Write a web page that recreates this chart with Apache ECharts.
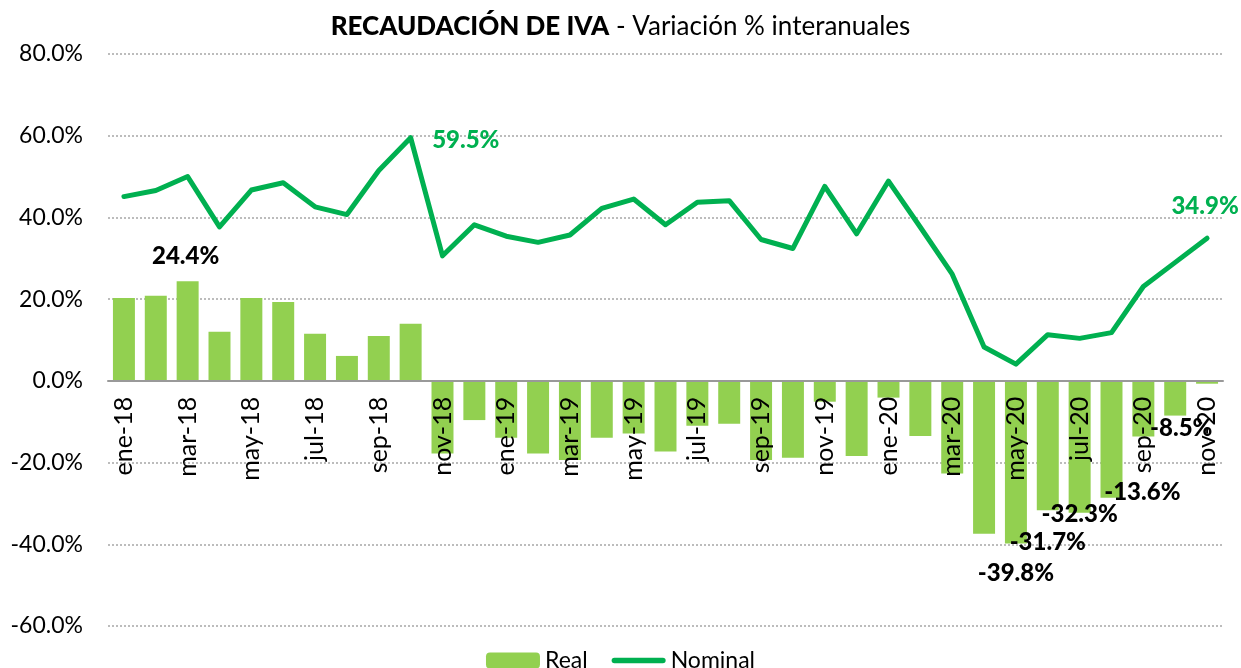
<!DOCTYPE html>
<html>
<head>
<meta charset="utf-8">
<script src="https://cdn.jsdelivr.net/npm/echarts@6/dist/echarts.min.js"></script>
<style>html,body{margin:0;padding:0;background:#fff;}#c{width:1241px;height:668px;}</style>
</head>
<body>
<div id="c"></div>
<script>
const categories = [
  'ene-18','feb-18','mar-18','abr-18','may-18','jun-18','jul-18','ago-18','sep-18','oct-18','nov-18','dic-18',
  'ene-19','feb-19','mar-19','abr-19','may-19','jun-19','jul-19','ago-19','sep-19','oct-19','nov-19','dic-19',
  'ene-20','feb-20','mar-20','abr-20','may-20','jun-20','jul-20','ago-20','sep-20','oct-20','nov-20'
];
const realValues = [
  20.3, 20.8, 24.4, 12.0, 20.3, 19.3, 11.5, 6.1, 11.0, 14.0, -17.8, -9.6,
  -13.9, -17.8, -19.4, -13.9, -12.9, -17.3, -11.0, -10.5, -19.4, -18.8, -5.1, -18.4,
  -4.1, -13.5, -22.7, -37.4, -39.8, -31.7, -32.3, -28.6, -13.6, -8.5, -0.7
];
const nominalValues = [
  45.1, 46.6, 50.0, 37.7, 46.7, 48.5, 42.6, 40.7, 51.5, 59.5, 30.6, 38.2,
  35.4, 33.9, 35.7, 42.2, 44.5, 38.2, 43.7, 44.1, 34.6, 32.4, 47.6, 36.0,
  48.9, 37.6, 26.1, 8.3, 4.1, 11.3, 10.4, 11.8, 23.1, 29.0, 34.9
];
const yMin = -60, yMax = 80, yStep = 20;
const seriesNames = ['Real', 'Nominal'];

// label placement (styling only)
const realLabelIdx = {
  2:  { position: 'top', offset: [-2, -13] },
  28: { position: 'bottom', offset: [0, 18] },
  29: { position: 'bottom', offset: [0, 20] },
  30: { position: 'bottom', offset: [0, -11] },
  32: { position: 'bottom', offset: [-1, 44] },
  33: { position: 'bottom', offset: [6, 1] }
};
const nominalLabelIdx = {
  9:  { position: 'right', offset: [21, 3] },
  34: { position: 'top', offset: [-2, -20] }
};

const FONT = 'Lato';
const pct = v => v.toFixed(1) + '%';

const realData = realValues.map((v, i) => realLabelIdx[i] ? {
  value: v,
  label: Object.assign({ show: true, distance: 0, formatter: p => pct(p.value),
    fontFamily: FONT, fontWeight: 900, fontSize: 24, lineHeight: 24, color: '#000' }, realLabelIdx[i])
} : v);

const nominalData = nominalValues.map((v, i) => nominalLabelIdx[i] ? {
  value: v, symbol: 'circle', symbolSize: 1,
  label: Object.assign({ show: true, distance: 0, formatter: p => pct(p.value),
    fontFamily: FONT, fontWeight: 900, fontSize: 24, lineHeight: 24, color: '#00B050' }, nominalLabelIdx[i])
} : v);

const chart = echarts.init(document.getElementById('c'), null, { renderer: 'canvas' });
chart.setOption({
  animation: false,
  backgroundColor: '#fff',
  title: {
    text: '{b|RECAUDACIÓN DE IVA}{n| - Variación % interanuales}',
    left: 'center', top: 9,
    textStyle: {
      rich: {
        b: { fontFamily: FONT, fontWeight: 900, fontSize: 26, color: '#000' },
        n: { fontFamily: FONT, fontWeight: 'normal', fontSize: 26, color: '#000' }
      }
    }
  },
  legend: {
    data: [
      { name: 'Real' },
      { name: 'Nominal', icon: 'path://M3,0 L55,0 A3,3 0 0 1 55,6 L3,6 A3,3 0 0 1 3,0 Z' }
    ],
    left: 'center', top: 644,
    itemWidth: 54, itemHeight: 16, itemGap: 24,
    textStyle: { fontFamily: FONT, fontSize: 23, color: '#000' }
  },
  grid: { left: 108, right: 18, top: 54, bottom: 42, containLabel: false, outerBoundsMode: 'none' },
  xAxis: {
    type: 'category',
    data: categories,
    boundaryGap: true,
    z: 10,
    axisLine: { onZero: false, lineStyle: { color: '#999', width: 2 } },
    axisTick: { show: false },
    axisLabel: { interval: 1, rotate: 90, margin: 16, fontFamily: FONT, fontSize: 25, color: '#000' },
    splitLine: { show: false }
  },
  yAxis: {
    type: 'value',
    min: yMin, max: yMax, interval: yStep,
    axisLine: { show: false },
    axisTick: { show: false },
    axisLabel: { formatter: v => pct(v), margin: 25, fontFamily: FONT, fontSize: 23, color: '#000' },
    splitLine: { lineStyle: { color: '#A6A6A6', width: 1.5, type: [2, 2] } }
  },
  series: [
    {
      name: 'Real', type: 'bar', data: realData,
      barCategoryGap: '31%',
      itemStyle: { color: '#92D050' },
      z: 2
    },
    {
      name: 'Nominal', type: 'line', data: nominalData,
      symbol: 'none', showSymbol: true, showAllSymbol: true,
      lineStyle: { color: '#00B050', width: 5, cap: 'round', join: 'round' },
      itemStyle: { color: '#00B050' },
      z: 3
    }
  ]
});
// move the category axis (line + labels) up to the zero value
const yZeroPx = chart.convertToPixel({ yAxisIndex: 0 }, 0);
const yBottomPx = chart.convertToPixel({ yAxisIndex: 0 }, yMin);
chart.setOption({ xAxis: { offset: yZeroPx - yBottomPx } });
</script>
</body>
</html>
